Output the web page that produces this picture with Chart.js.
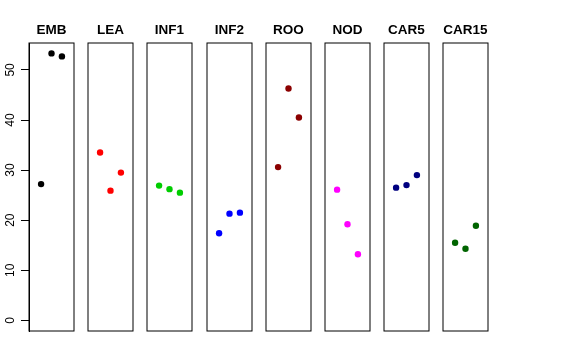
<!DOCTYPE html>
<html>
<head>
<meta charset="utf-8">
<script src="https://cdn.jsdelivr.net/npm/chart.js@4.4.1/dist/chart.umd.min.js"></script>
<style>
  html, body { margin: 0; padding: 0; background: #fff; }
  #wrap { position: relative; width: 576px; height: 360px; overflow: hidden; }
  #wrap canvas { position: absolute; top: 0; }
</style>
</head>
<body>
<div id="wrap"></div>
<script>
// Data
const panels = ['EMB', 'LEA', 'INF1', 'INF2', 'ROO', 'NOD', 'CAR5', 'CAR15'];
const colors = ['#000000', '#FF0000', '#00CD00', '#0000FF', '#8B0000', '#FF00FF', '#000080', '#006400'];
const xPos  = [1, 2, 3];
const EMB   = [27.2, 53.3, 52.7];
const LEA   = [33.5, 25.9, 29.5];
const INF1  = [26.9, 26.2, 25.5];
const INF2  = [17.4, 21.3, 21.5];
const ROO   = [30.6, 46.3, 40.5];
const NOD   = [26.1, 19.2, 13.2];
const CAR5  = [26.5, 27.0, 29.0];
const CAR15 = [15.5, 14.3, 18.9];
const series = [EMB, LEA, INF1, INF2, ROO, NOD, CAR5, CAR15];
const yTicks = [0, 10, 20, 30, 40, 50];

// Layout
const FONT = '"Liberation Sans", Arial, Helvetica, sans-serif';
const firstLeft = 29, pitch = 59.19, panelW = 45, axisW = 29, side = 7;
const padTop = 43, padBottom = 29;

// panel frame + title
const panelDeco = {
  id: 'panelDeco',
  afterDatasetsDraw(chart, args, opts) {
    const { ctx, chartArea: a } = chart;
    ctx.save();
    ctx.strokeStyle = '#000';
    ctx.lineWidth = 1;
    ctx.strokeRect(a.left, a.top, a.right - a.left, a.bottom - a.top);
    ctx.fillStyle = '#000';
    ctx.font = 'bold 13.5px ' + FONT;
    ctx.textAlign = 'center';
    ctx.textBaseline = 'alphabetic';
    ctx.fillText(opts.label, (a.left + a.right) / 2, 34);
    ctx.restore();
  }
};

const wrap = document.getElementById('wrap');
panels.forEach((name, i) => {
  const left = Math.round(firstLeft + i * pitch);
  const padL = i === 0 ? 0 : side;
  const extra = i === 0 ? axisW : side;
  const cv = document.createElement('canvas');
  const w = panelW + extra + side;
  cv.width = w; cv.height = 360;
  cv.style.width = w + 'px'; cv.style.height = '360px';
  cv.style.left = (left - extra) + 'px';
  wrap.appendChild(cv);

  const yScale = {
    type: 'linear', min: -2.13, max: 55.38,
    display: i === 0,
    afterBuildTicks: s => { s.ticks = yTicks.map(v => ({ value: v })); },
    grid: { drawOnChartArea: false, color: '#000', tickLength: 8 },
    border: { color: '#000' },
    ticks: {
      color: '#000',
      font: { family: FONT, size: 12 },
      minRotation: 90, maxRotation: 90,
      crossAlign: 'center',
      padding: 4
    }
  };
  if (i === 0) yScale.afterFit = s => { s.width = axisW; };

  new Chart(cv.getContext('2d'), {
    type: 'scatter',
    data: {
      datasets: [{
        data: xPos.map((x, j) => ({ x: x, y: series[i][j] })),
        backgroundColor: colors[i],
        borderWidth: 0,
        pointRadius: 3.2
      }]
    },
    options: {
      responsive: false,
      animation: false,
      events: [],
      layout: { padding: { top: padTop, bottom: padBottom, left: padL, right: side } },
      plugins: {
        legend: { display: false },
        tooltip: { enabled: false },
        panelDeco: { label: name }
      },
      scales: {
        x: { type: 'linear', min: -0.16, max: 4.16, display: false },
        y: yScale
      }
    },
    plugins: [panelDeco]
  });
});
</script>
</body>
</html>
